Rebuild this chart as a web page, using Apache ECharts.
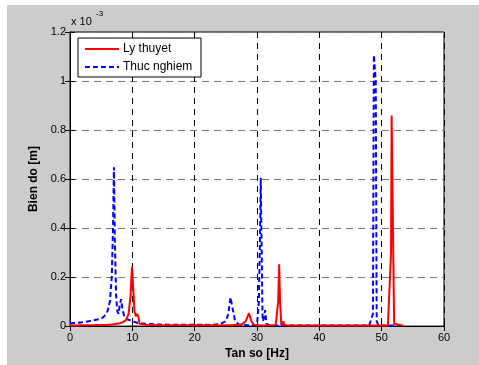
<!DOCTYPE html>
<html>
<head>
<meta charset="utf-8">
<script src="https://cdn.jsdelivr.net/npm/echarts@6/dist/echarts.min.js"></script>
<style>
  html, body { margin: 0; padding: 0; background: #fff; }
  #main { width: 479px; height: 365px; }
</style>
</head>
<body>
<div id="main"></div>
<script>
// Tan so [Hz] vs Bien do [x 10^-3 m]
const xTicks = [0, 10, 20, 30, 40, 50, 60];
const yTicks = [0, 0.2, 0.4, 0.6, 0.8, 1, 1.2];

// Ly thuyet (red, solid)
const lyFreq = [0, 2, 4, 6, 7, 8, 8.5, 9, 9.4, 9.7, 9.95, 10.15, 10.35, 10.55, 10.75, 10.95, 11.15, 12, 14, 20, 26, 27.5, 28.2, 28.7, 29.1, 29.5, 31, 33, 33.4, 33.55, 33.7, 33.9, 34.2, 34.4, 36, 45, 51, 51.5, 51.6, 51.9, 52.0, 52.3, 53.5];
const lyAmp  = [0.002, 0.003, 0.004, 0.006, 0.008, 0.012, 0.016, 0.025, 0.05, 0.12, 0.243, 0.15, 0.06, 0.04, 0.05, 0.04, 0.01, 0.006, 0.004, 0.003, 0.003, 0.006, 0.02, 0.053, 0.02, 0.005, 0.002, 0.005, 0.1, 0.252, 0.1, 0.005, 0.02, 0.003, 0.002, 0.002, 0.002, 0.3, 0.859, 0.859, 0.01, 0.002, 0.002];

// Thuc nghiem (blue, dashed)
const tnFreq = [0, 1, 2, 3, 4, 5, 5.5, 6, 6.4, 6.7, 6.9, 7.05, 7.2, 7.4, 7.6, 7.8, 8.0, 8.2, 8.4, 8.7, 9, 9.5, 10, 11, 12, 14, 16, 18, 20, 22, 23, 24, 25, 25.4, 25.75, 26.1, 26.5, 27, 28, 29, 30, 30.3, 30.5, 30.6, 30.75, 30.9, 31.1, 31.3, 31.5, 32, 35, 40, 45, 48, 48.6, 48.75, 49.05, 49.2, 49.5, 52, 53];
const tnAmp  = [0.012, 0.013, 0.016, 0.02, 0.025, 0.03, 0.04, 0.06, 0.1, 0.2, 0.4, 0.648, 0.35, 0.12, 0.06, 0.05, 0.09, 0.11, 0.07, 0.04, 0.03, 0.025, 0.02, 0.012, 0.01, 0.007, 0.006, 0.005, 0.005, 0.005, 0.006, 0.008, 0.02, 0.05, 0.117, 0.07, 0.02, 0.008, 0.004, 0.003, 0.005, 0.1, 0.4, 0.605, 0.3, 0.02, 0.03, 0.065, 0.01, 0.003, 0.002, 0.002, 0.002, 0.003, 0.05, 1.106, 1.0, 0.02, 0.003, 0.002, 0.002];

const lyData = lyFreq.map((f, i) => [f, lyAmp[i]]);
const tnData = tnFreq.map((f, i) => [f, tnAmp[i]]);

const font = 'Liberation Sans, Arial, sans-serif';
const chart = echarts.init(document.getElementById('main'));

const baseAxis = {
  axisLine: { show: true, lineStyle: { color: '#000', width: 1 } },
  axisTick: { show: true, inside: true, length: 5, lineStyle: { color: '#000' } }
};

chart.setOption({
  backgroundColor: '#fff',
  animation: false,
  graphic: [
    { type: 'rect', z: -10, shape: { x: 7, y: 5, width: 472, height: 360 }, style: { fill: '#cccccc' } },
    { type: 'text', left: 71, top: 16, style: { text: 'x 10', font: '11px ' + font, fill: '#000' } },
    { type: 'text', left: 96, top: 10, style: { text: '-3', font: '8px ' + font, fill: '#000' } },
    // legend box
    { type: 'rect', shape: { x: 78, y: 38, width: 123, height: 39 }, style: { fill: '#fff', stroke: '#000', lineWidth: 1 }, z: 100 },
    { type: 'line', shape: { x1: 85, y1: 49, x2: 119, y2: 49 }, style: { stroke: '#ff0000', lineWidth: 2 }, z: 101 },
    { type: 'text', left: 123, top: 43, style: { text: 'Ly thuyet', font: '12px ' + font, fill: '#000' }, z: 101 },
    { type: 'line', shape: { x1: 85, y1: 67, x2: 119, y2: 67 }, style: { stroke: '#0000ff', lineWidth: 2, lineDash: [5, 3] }, z: 101 },
    { type: 'text', left: 123, top: 61, style: { text: 'Thuc nghiem', font: '12px ' + font, fill: '#000' }, z: 101 }
  ],
  grid: {
    left: 70, right: 35, top: 32, bottom: 38,
    show: true, backgroundColor: '#fff', borderColor: '#000', borderWidth: 1
  },
  xAxis: [
    Object.assign({}, baseAxis, {
      type: 'value', min: 0, max: 60, interval: 10,
      name: 'Tan so [Hz]', nameLocation: 'middle', nameGap: 20,
      nameTextStyle: { fontFamily: font, fontSize: 12, fontWeight: 'bold', color: '#000' },
      axisLabel: { fontFamily: font, fontSize: 11, color: '#000', margin: 6,
        formatter: v => xTicks.includes(v) ? String(v) : '' },
      splitLine: { show: true, lineStyle: { color: '#000', type: [6, 5], width: 1 } }
    }),
    Object.assign({}, baseAxis, {
      type: 'value', position: 'top', min: 0, max: 60, interval: 10,
      axisLabel: { show: false }, splitLine: { show: false }
    })
  ],
  yAxis: [
    Object.assign({}, baseAxis, {
      type: 'value', min: 0, max: 1.2, interval: 0.2,
      name: 'Bien do [m]', nameLocation: 'middle', nameGap: 29,
      nameTextStyle: { fontFamily: font, fontSize: 12, fontWeight: 'bold', color: '#000' },
      axisLabel: { fontFamily: font, fontSize: 11, color: '#000', margin: 4,
        formatter: v => { const t = yTicks.find(y => Math.abs(y - v) < 1e-9); return t === undefined ? '' : String(t); } },
      splitLine: { show: true, lineStyle: { color: '#777', type: [7, 5], width: 1 } }
    }),
    Object.assign({}, baseAxis, {
      type: 'value', position: 'right', min: 0, max: 1.2, interval: 0.2,
      axisLabel: { show: false }, splitLine: { show: false }
    })
  ],
  series: [
    {
      name: 'Thuc nghiem', type: 'line', data: tnData, showSymbol: false,
      lineStyle: { color: '#0000ff', width: 2, type: [5, 3] }, z: 3
    },
    {
      name: 'Ly thuyet', type: 'line', data: lyData, showSymbol: false,
      lineStyle: { color: '#ff0000', width: 2 }, z: 4
    }
  ]
});
</script>
</body>
</html>
